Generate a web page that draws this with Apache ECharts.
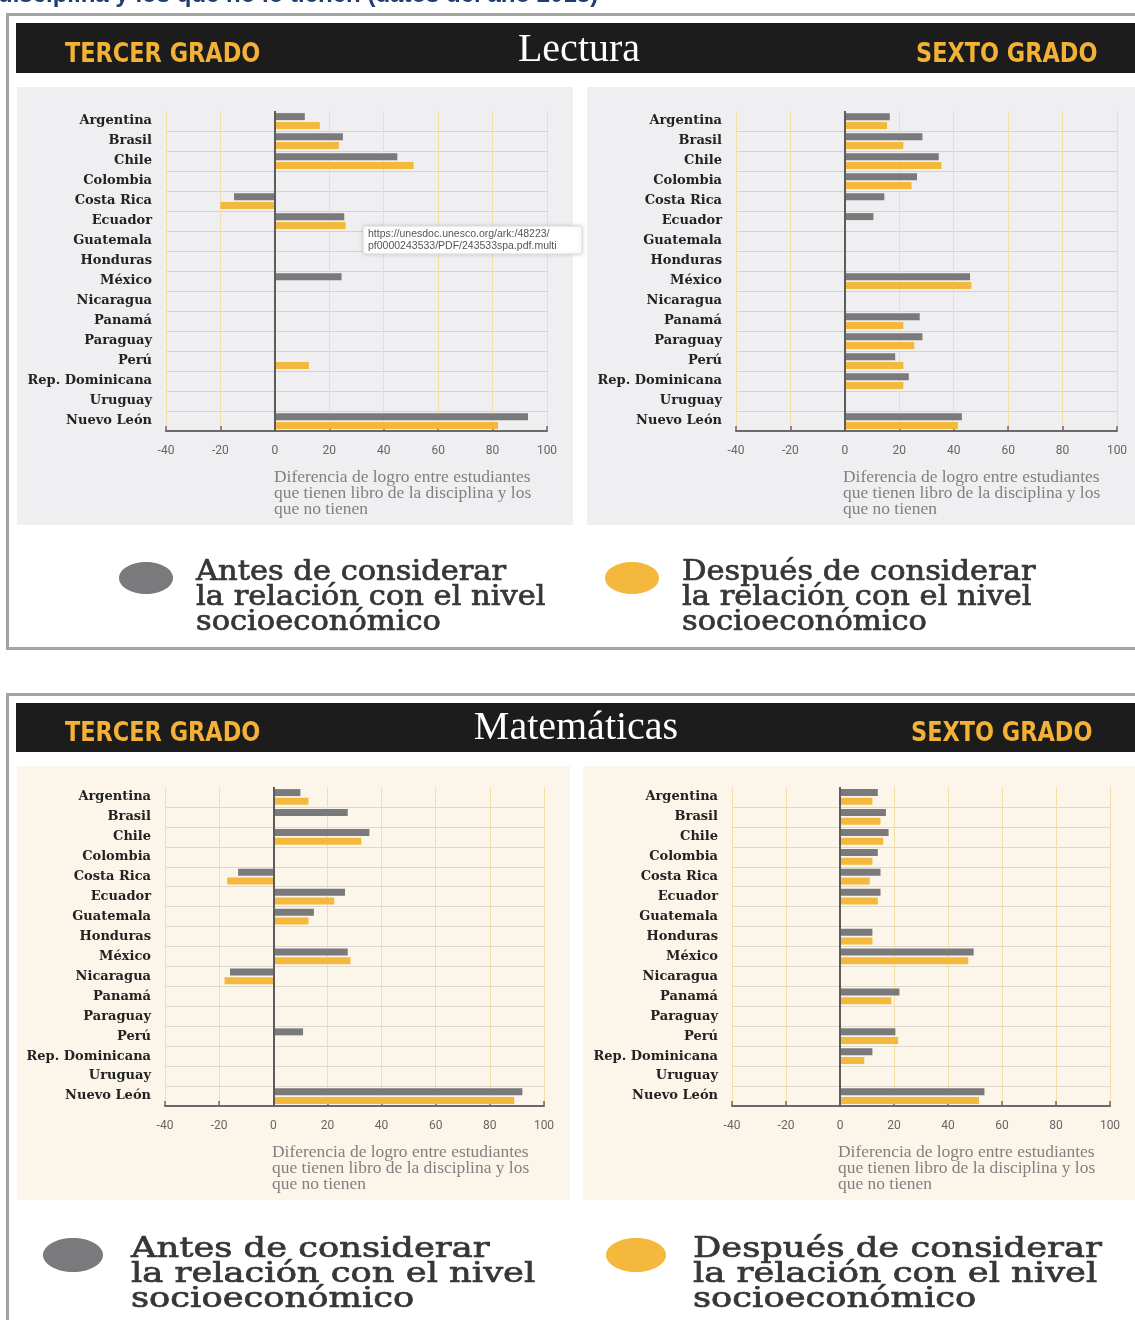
<!DOCTYPE html>
<html>
<head>
<meta charset="utf-8">
<script src="https://cdn.jsdelivr.net/npm/echarts@6/dist/echarts.min.js"></script>
<style>
  html, body { margin: 0; padding: 0; background: #ffffff; }
  #chart { width: 1135px; height: 1320px; }
</style>
</head>
<body>
<div id="chart"></div>
<script>
// Países y región evaluados
const paises = ['Argentina', 'Brasil', 'Chile', 'Colombia', 'Costa Rica', 'Ecuador', 'Guatemala',
  'Honduras', 'México', 'Nicaragua', 'Panamá', 'Paraguay', 'Perú', 'Rep. Dominicana', 'Uruguay', 'Nuevo León'];

// Lectura, tercer grado
const lectura3Antes   = [11, 25, 45, null, -15, 25.5, null, null, 24.5, null, null, null, null, null, null, 93];
const lectura3Despues = [16.5, 23.5, 51, null, -20, 26, null, null, null, null, null, null, 12.5, null, null, 82];
// Lectura, sexto grado
const lectura6Antes   = [16.5, 28.5, 34.5, 26.5, 14.5, 10.5, null, null, 46, null, 27.5, 28.5, 18.5, 23.5, null, 43];
const lectura6Despues = [15.5, 21.5, 35.5, 24.5, null, null, null, null, 46.5, null, 21.5, 25.5, 21.5, 21.5, null, 41.5];
// Matemáticas, tercer grado
const mate3Antes   = [10, 27.5, 35.5, null, -13, 26.5, 15, null, 27.5, -16, null, null, 11, null, null, 92];
const mate3Despues = [13, null, 32.5, null, -17, 22.5, 13, null, 28.5, -18, null, null, null, null, null, 89];
// Matemáticas, sexto grado
const mate6Antes   = [14, 17, 18, 14, 15, 15, null, 12, 49.5, null, 22, null, 20.5, 12, null, 53.5];
const mate6Despues = [12, 15, 16, 12, 11, 14, null, 12, 47.5, null, 19, null, 21.5, 9, null, 51.5];

// Eje de valores
const ejeMin = -40;
const ejeMax = 100;
const ejeIntervalo = 20;

const serieAntes = 'Antes de considerar la relación con el nivel socioeconómico';
const serieDespues = 'Después de considerar la relación con el nivel socioeconómico';
const tituloEje = 'Diferencia de logro entre estudiantes\nque tienen libro de la disciplina y los\nque no tienen';
const textoLeyendaAntes = 'Antes de considerar\nla relación con el nivel\nsocioeconómico';
const textoLeyendaDespues = 'Después de considerar\nla relación con el nivel\nsocioeconómico';
const enlace = 'https://unesdoc.unesco.org/ark:/48223/\npf0000243533/PDF/243533spa.pdf.multi';

const GRIS = '#7a7a7c';
const AMARILLO = '#f4b83c';

const paneles = [
  { rect: { left: 166, top: 111, width: 381, height: 320 }, antes: lectura3Antes, despues: lectura3Despues, hline: '#d3d3d5' },
  { rect: { left: 736, top: 111, width: 381, height: 320 }, antes: lectura6Antes, despues: lectura6Despues, hline: '#d3d3d5' },
  { rect: { left: 165, top: 787, width: 379, height: 319 }, antes: mate3Antes, despues: mate3Despues, hline: '#dcd8d0' },
  { rect: { left: 732, top: 787, width: 378, height: 319 }, antes: mate6Antes, despues: mate6Despues, hline: '#dcd8d0' }
];

const grid = [], xAxis = [], yAxis = [], series = [];
paneles.forEach((p, i) => {
  grid.push(Object.assign({ containLabel: false }, p.rect));
  xAxis.push({
    type: 'value', gridIndex: i, min: ejeMin, max: ejeMax, interval: ejeIntervalo,
    axisLine: { show: true, onZero: false, lineStyle: { color: '#6a6a6a', width: 2 } },
    axisTick: { show: true, inside: true, length: 5, lineStyle: { color: '#6a6a6a', width: 1.5 } },
    axisLabel: { margin: 14, color: '#666', fontSize: 12, fontFamily: '"Liberation Sans Narrow", Roboto, sans-serif' },
    splitLine: { show: true, lineStyle: { color: '#f1dfa6', width: 1 } }
  });
  yAxis.push({
    type: 'category', gridIndex: i, data: paises, inverse: true,
    axisLine: { show: false }, axisTick: { show: false },
    axisLabel: { margin: 14, color: '#222', fontSize: 13, fontWeight: 'bold', fontFamily: '"DejaVu Serif", serif' },
    splitLine: { show: true, interval: (idx) => idx > 0, lineStyle: { color: p.hline, width: 1 } }
  });
  series.push({
    name: serieAntes, type: 'bar', xAxisIndex: i, yAxisIndex: i, data: p.antes,
    barWidth: 7, barGap: '25%', itemStyle: { color: GRIS }, silent: true,
    markLine: {
      silent: true, symbol: ['none', 'none'], label: { show: false },
      lineStyle: { color: '#5c5c5c', width: 2, type: 'solid' },
      data: [{ xAxis: 0 }]
    }
  });
  series.push({
    name: serieDespues, type: 'bar', xAxisIndex: i, yAxisIndex: i, data: p.despues,
    barWidth: 7, barGap: '25%', itemStyle: { color: AMARILLO }, silent: true
  });
});

// texto suelto de la capa gráfica
function texto(x, y, txt, font, fill, align, valign, extra, lineHeight, trazo) {
  const style = { text: txt, font: font, fill: fill, align: align, verticalAlign: valign,
                  textAlign: align, textVerticalAlign: valign };
  if (lineHeight) style.lineHeight = lineHeight;
  if (trazo) { style.stroke = fill; style.lineWidth = trazo; }
  return Object.assign({ type: 'text', x: x, y: y, z: 20, style: style }, extra || {});
}

const graphic = [];
// marcos, barras de encabezado y fondos de los paneles
graphic.push(
  { type: 'rect', z: -20, shape: { x: 7.5, y: 14.5, width: 1145, height: 634 }, style: { fill: 'none', stroke: '#a3a3a3', lineWidth: 3 } },
  { type: 'rect', z: -20, shape: { x: 7.5, y: 694.5, width: 1145, height: 700 }, style: { fill: 'none', stroke: '#a3a3a3', lineWidth: 3 } },
  { type: 'rect', z: -15, shape: { x: 16, y: 23, width: 1130, height: 50 }, style: { fill: '#1c1c1c' } },
  { type: 'rect', z: -15, shape: { x: 16, y: 703, width: 1130, height: 49 }, style: { fill: '#1c1c1c' } },
  { type: 'rect', z: -15, shape: { x: 17, y: 87, width: 556, height: 438 }, style: { fill: '#efeff1' } },
  { type: 'rect', z: -15, shape: { x: 587, y: 87, width: 560, height: 438 }, style: { fill: '#efeff1' } },
  { type: 'rect', z: -15, shape: { x: 17, y: 766, width: 553, height: 434 }, style: { fill: '#fcf6ea' } },
  { type: 'rect', z: -15, shape: { x: 583, y: 766, width: 560, height: 434 }, style: { fill: '#fcf6ea' } }
);
// titular recortado en la parte superior
graphic.push(texto(-2, 7, 'disciplina y los que no lo tienen (datos del año 2018)', 'bold 24px "Liberation Sans", sans-serif', '#1f3d73', 'left', 'bottom'));
// encabezados
const grado = 'bold 27px "DejaVu Sans", sans-serif';
graphic.push(
  texto(65, 55, 'TERCER GRADO', grado, '#f3b236', 'left', 'middle', { scaleX: 0.83 }),
  texto(916, 55, 'SEXTO GRADO', grado, '#f3b236', 'left', 'middle', { scaleX: 0.83 }),
  texto(579, 50, 'Lectura', '40px "Liberation Serif", serif', '#ffffff', 'center', 'middle'),
  texto(65, 734, 'TERCER GRADO', grado, '#f3b236', 'left', 'middle', { scaleX: 0.83 }),
  texto(911, 734, 'SEXTO GRADO', grado, '#f3b236', 'left', 'middle', { scaleX: 0.83 }),
  texto(576, 728, 'Matemáticas', '40px "Liberation Serif", serif', '#ffffff', 'center', 'middle')
);
// títulos de los ejes
const fuenteEje = '16px "Liberation Serif", serif';
[[274, 470], [843, 470], [272, 1145], [838, 1145]].forEach(([x, y]) => {
  graphic.push(texto(x, y, tituloEje, fuenteEje, '#808080', 'left', 'top', { scaleX: 1.09 }, 16));
});
// nota emergente con el enlace
graphic.push(
  { type: 'rect', z: 18, shape: { x: 363, y: 226, width: 219, height: 28, r: 2 },
    style: { fill: '#ffffff', stroke: '#dcdcdc', lineWidth: 1, shadowBlur: 4, shadowColor: 'rgba(0,0,0,0.15)' } },
  texto(368, 228, enlace, '10.5px "Liberation Sans", sans-serif', '#555', 'left', 'top', null, 12)
);
// leyendas
function leyenda(cx, cy, rx, ry, color, tx, ty, txt, size, sx) {
  const f = size + 'px "DejaVu Serif", serif';
  graphic.push(
    { type: 'ellipse', z: 20, shape: { cx: cx, cy: cy, rx: rx, ry: ry }, style: { fill: color } },
    texto(tx, ty, txt, f, '#363636', 'left', 'top', { scaleX: sx }, 25, 0.7)
  );
}
leyenda(146, 578, 27, 16, GRIS, 196, 560, textoLeyendaAntes, 27, 1.13);
leyenda(632, 578, 27, 16, AMARILLO, 682, 560, textoLeyendaDespues, 27, 1.13);
leyenda(73, 1255, 30, 17, GRIS, 131, 1237, textoLeyendaAntes, 28, 1.26);
leyenda(636, 1255, 30, 17, AMARILLO, 693, 1237, textoLeyendaDespues, 28, 1.26);

const chart = echarts.init(document.getElementById('chart'), null, { renderer: 'canvas' });
chart.setOption({
  animation: false,
  backgroundColor: '#ffffff',
  grid: grid,
  xAxis: xAxis,
  yAxis: yAxis,
  series: series,
  graphic: graphic
});
</script>
</body>
</html>
